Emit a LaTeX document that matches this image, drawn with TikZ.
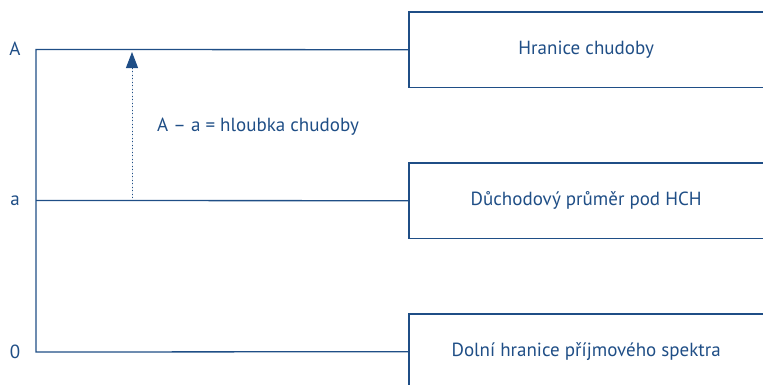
\documentclass[tikz,border=0pt]{standalone}
\usepackage{fontspec}
\setmainfont{PT Sans}
\usepackage{xcolor}
\definecolor{navy}{HTML}{1F4E86}
\usepackage{tikz}
\usetikzlibrary{arrows.meta, positioning}

\begin{document}
\begin{tikzpicture}[
  x=1pt, y=-1pt,
  font=\fontsize{19}{22}\selectfont,
  every node/.style={align=center, text=navy},
  level/.style={inner sep=0pt},
  box/.style={rectangle, inner sep=0pt, minimum width=354pt, minimum height=75pt, anchor=north west},
  frame/.style={draw=navy, line width=1.3pt},
  gap/.style={-{Triangle[length=16pt, width=12pt]}, draw=navy, fill=navy, line width=1pt,
    dash pattern=on 1pt off 2.5pt},
]
  \useasboundingbox (0,0) rectangle (763,384);

  % levels on the axis
  \node[level] (lA) at (15,49) {A};
  \node[level] (la) at (15,201) {a};
  \node[level] (l0) at (15,352) {0};
  \coordinate (oA) at (36,49.5);
  \coordinate (oa) at (36,200.5);
  \coordinate (o0) at (36,352);

  % boxes, open to the right
  \node[box] (hch) at (409,12) {Hranice chudoby};
  \node[box] (prumer) at (409,163) {Důchodový průměr pod HCH};
  \node[box] (dolni) at (409,314) {Dolní hranice příjmového spektra};

  \draw[frame] (hch.north east) -- (hch.north west) -- (hch.south west) -- (hch.south east);
  \draw[frame] (prumer.north east) -- (prumer.north west) -- (prumer.south west) -- (prumer.south east);
  \draw[frame] (dolni.north east) -- (dolni.north west) -- (dolni.south west);

  \draw[frame] (hch.west) -- (oA) -- (o0) -- (dolni.west);
  \draw[frame] (oa) -- (prumer.west);

  % depth of poverty
  \coordinate (hlA) at (132,52);
  \coordinate (hla) at (132,198);
  \draw[gap] (hla) -- (hlA);
  \node[level, anchor=west] (hloubka) at (157,127) {A – a = hloubka chudoby};
\end{tikzpicture}
\end{document}
